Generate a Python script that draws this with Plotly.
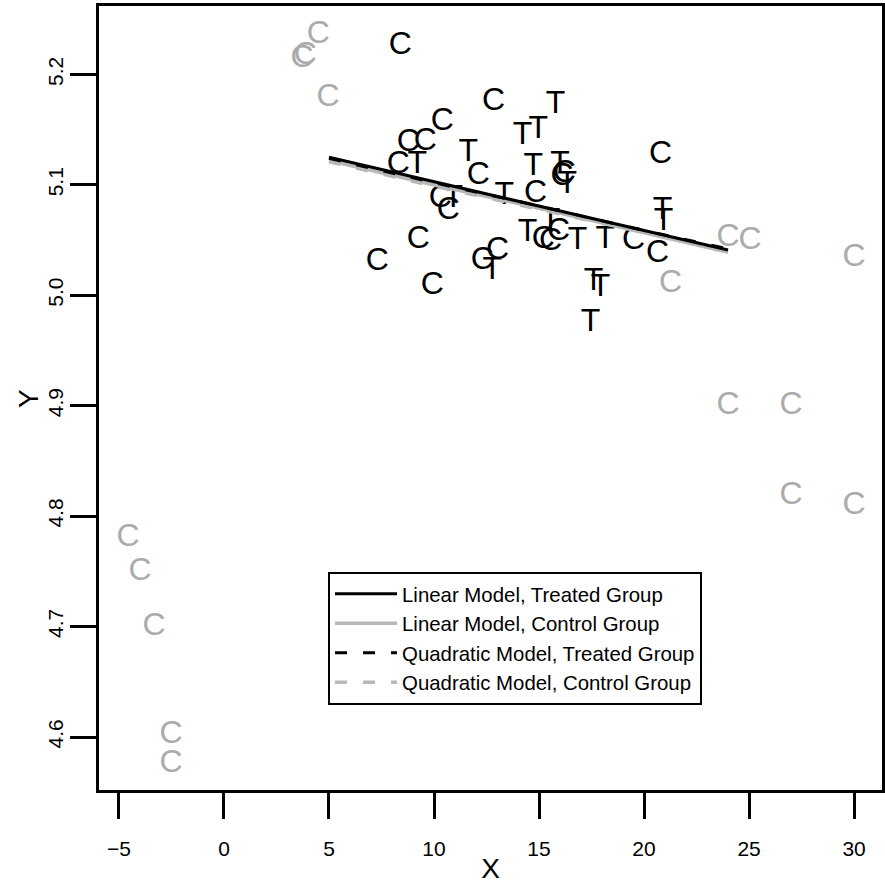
import plotly.graph_objects as go

# Treated group points ("T")
treated_x = [9.2, 11.63, 14.21, 14.97, 15.78, 14.73, 13.35, 10.92, 16.0, 16.35,
             12.78, 14.45, 15.55, 16.83, 18.16, 20.88, 20.93, 17.6, 17.93, 17.45]
treated_y = [5.118, 5.129, 5.144, 5.150, 5.172, 5.116, 5.090, 5.087, 5.118, 5.100,
             5.022, 5.056, 5.066, 5.049, 5.050, 5.076, 5.066, 5.012, 5.007, 4.975]

# Control group points inside the common range ("C", black)
ctrl_in_x = [8.39, 12.83, 10.40, 9.58, 8.78, 8.30, 12.11, 14.83, 10.30, 10.68,
             9.25, 7.30, 9.92, 12.30, 13.02, 16.20, 16.10, 15.20, 15.55, 15.93,
             19.50, 20.64, 20.79]
ctrl_in_y = [5.226, 5.175, 5.157, 5.139, 5.138, 5.118, 5.108, 5.092, 5.087, 5.076,
             5.050, 5.030, 5.008, 5.031, 5.040, 5.110, 5.107, 5.050, 5.048, 5.057,
             5.049, 5.037, 5.127]

# Control group points outside the common range ("C", grey)
ctrl_out_x = [-4.57, -4.0, -3.33, -2.52, -2.52, 3.72, 3.87, 4.49, 4.96, 21.26,
              24.0, 25.05, 24.0, 27.0, 27.0, 30.0, 30.0]
ctrl_out_y = [4.780, 4.749, 4.700, 4.602, 4.576, 5.214, 5.217, 5.236, 5.179, 5.010,
              5.052, 5.049, 4.900, 4.900, 4.818, 4.809, 5.034]

# Fitted model lines
fit_x = [5.0, 9.75, 14.5, 19.25, 24.0]
lin_treated_y = [5.125, 5.104, 5.083, 5.062, 5.041]
lin_control_y = [5.122, 5.101, 5.081, 5.060, 5.039]
quad_treated_y = [5.124, 5.103, 5.083, 5.062, 5.042]
quad_control_y = [5.121, 5.100, 5.080, 5.060, 5.040]

x_ticks = [-5, 0, 5, 10, 15, 20, 25, 30]
x_ticklabels = ["\u22125", "0", "5", "10", "15", "20", "25", "30"]
y_ticks = [4.6, 4.7, 4.8, 4.9, 5.0, 5.1, 5.2]
y_ticklabels = ["4.6", "4.7", "4.8", "4.9", "5.0", "5.1", "5.2"]

FONT = "Liberation Sans, Arial, Helvetica, sans-serif"
GREY_PT = "#ababab"
GREY_LN = "#b8b8b8"
TXT_SIZE = 32

fig = go.Figure()

fig.add_trace(go.Scatter(x=ctrl_out_x, y=ctrl_out_y, mode="text",
                         text=["C"] * len(ctrl_out_x), textposition="middle center",
                         textfont=dict(family=FONT, size=TXT_SIZE, color=GREY_PT),
                         showlegend=False, hoverinfo="skip"))
fig.add_trace(go.Scatter(x=ctrl_in_x, y=ctrl_in_y, mode="text",
                         text=["C"] * len(ctrl_in_x), textposition="middle center",
                         textfont=dict(family=FONT, size=TXT_SIZE, color="black"),
                         showlegend=False, hoverinfo="skip"))
fig.add_trace(go.Scatter(x=treated_x, y=treated_y, mode="text",
                         text=["T"] * len(treated_x), textposition="middle center",
                         textfont=dict(family=FONT, size=TXT_SIZE, color="black"),
                         showlegend=False, hoverinfo="skip"))

fig.add_trace(go.Scatter(x=fit_x, y=quad_control_y, mode="lines",
                         line=dict(color=GREY_LN, width=3.5, dash="12px,16px"),
                         name="Quadratic Model, Control Group", legendrank=4))
fig.add_trace(go.Scatter(x=fit_x, y=lin_control_y, mode="lines",
                         line=dict(color=GREY_LN, width=3.5),
                         name="Linear Model, Control Group", legendrank=2))
fig.add_trace(go.Scatter(x=fit_x, y=quad_treated_y, mode="lines",
                         line=dict(color="black", width=3, dash="12px,16px"),
                         name="Quadratic Model, Treated Group", legendrank=3))
fig.add_trace(go.Scatter(x=fit_x, y=lin_treated_y, mode="lines",
                         line=dict(color="black", width=3),
                         name="Linear Model, Treated Group", legendrank=1))

axis_common = dict(showgrid=False, zeroline=False, showline=True, linecolor="black",
                   linewidth=2.5, mirror=True, ticks="outside", ticklen=26,
                   tickwidth=2.5, tickcolor="black", automargin=False,
                   tickfont=dict(family=FONT, size=21, color="black"))

fig.update_layout(
    width=885, height=884,
    margin=dict(l=99, r=3, t=6, b=94),
    paper_bgcolor="white", plot_bgcolor="white",
    font=dict(family=FONT, color="black"),
    xaxis=dict(range=[-5.95, 31.33], tickvals=x_ticks, ticktext=x_ticklabels,
               ticklabelstandoff=12,
               title=dict(text="X", font=dict(family=FONT, size=28), standoff=4),
               **axis_common),
    yaxis=dict(range=[4.552, 5.262], tickvals=y_ticks, ticktext=y_ticklabels,
               tickangle=-90, ticklabelstandoff=-1,
               **axis_common),
    legend=dict(x=0.2925, y=0.278, xanchor="left", yanchor="top",
                bordercolor="black", borderwidth=2, bgcolor="white",
                font=dict(family=FONT, size=20.4, color="black"),
                traceorder="normal", itemwidth=62),
    showlegend=True,
    annotations=[dict(text="Y", xref="paper", yref="paper", x=-0.0907, y=0.5,
                      xanchor="center", yanchor="middle", textangle=-90,
                      showarrow=False, font=dict(family=FONT, size=28, color="black"))],
)

fig.write_html("out.html",
               config={"displayModeBar": False},
               post_script="document.body.style.margin='0';document.body.style.overflow='hidden';")
